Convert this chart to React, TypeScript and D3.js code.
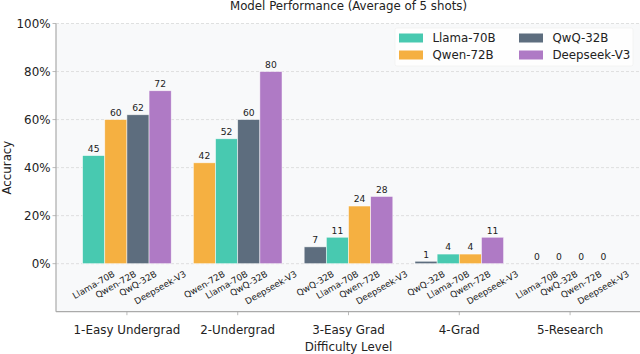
import React, { useEffect, useRef } from 'react';
import * as d3 from 'd3';

const categories = ['1-Easy Undergrad', '2-Undergrad', '3-Easy Grad', '4-Grad', '5-Research'];
const models = ['Llama-70B', 'Qwen-72B', 'QwQ-32B', 'Deepseek-V3'];
const colors = ['#48C9B0', '#F5B041', '#5D6D7E', '#AF7AC5'];

// accuracy per model, one value per category
const llamaValues = [45, 52, 11, 4, 0];
const qwenValues = [60, 42, 24, 4, 0];
const qwqValues = [62, 60, 7, 1, 0];
const deepseekValues = [72, 80, 28, 11, 0];

// bar order inside each group (ascending as in the figure)
const groupOrder = [
  ['Llama-70B', 'Qwen-72B', 'QwQ-32B', 'Deepseek-V3'],
  ['Qwen-72B', 'Llama-70B', 'QwQ-32B', 'Deepseek-V3'],
  ['QwQ-32B', 'Llama-70B', 'Qwen-72B', 'Deepseek-V3'],
  ['QwQ-32B', 'Llama-70B', 'Qwen-72B', 'Deepseek-V3'],
  ['Llama-70B', 'QwQ-32B', 'Qwen-72B', 'Deepseek-V3'],
];

const yTicks = [0, 20, 40, 60, 80, 100];

const W = 640, H = 354;
const left = 56, right = 641, top = 23.5, bottom = 311.7;
const FONT = 'DejaVu Sans, sans-serif';

function App() {
  const ref = useRef<SVGSVGElement>(null);

  useEffect(() => {
    const seriesByModel: Record<string, number[]> = {
      'Llama-70B': llamaValues,
      'Qwen-72B': qwenValues,
      'QwQ-32B': qwqValues,
      'Deepseek-V3': deepseekValues,
    };
    const colorByModel: Record<string, string> = {};
    models.forEach((m, i) => { colorByModel[m] = colors[i]; });

    const svg = d3.select(ref.current);
    svg.selectAll('*').remove();

    const x = d3.scaleLinear().domain([-0.64, 4.64]).range([left, right]);
    const y = d3.scaleLinear().domain([-20, 100]).range([bottom, top]);
    const bw = 0.2;

    // plot background
    svg.append('rect')
      .attr('x', left).attr('y', top)
      .attr('width', right - left).attr('height', bottom - top)
      .attr('fill', '#f8f9fa');

    // grid
    yTicks.forEach(t => {
      svg.append('line')
        .attr('x1', left).attr('x2', right)
        .attr('y1', y(t)).attr('y2', y(t))
        .style('stroke', '#d8d8d8')
        .style('stroke-width', 0.8)
        .style('stroke-dasharray', '3,2');
    });

    // bars
    groupOrder.forEach((order, g) => {
      order.forEach((m, i) => {
        const v = seriesByModel[m][g];
        const cx = g + (i - 1.5) * bw;
        svg.append('rect')
          .attr('x', x(cx - bw / 2))
          .attr('y', y(v))
          .attr('width', x(cx + bw / 2) - x(cx - bw / 2))
          .attr('height', y(0) - y(v))
          .attr('fill', colorByModel[m])
          .style('stroke', 'white')
          .style('stroke-opacity', 0.7)
          .style('stroke-width', 0.7);

        svg.append('text')
          .attr('x', x(cx))
          .attr('y', y(v) - 3.6)
          .attr('text-anchor', 'middle')
          .style('font-family', FONT)
          .style('font-size', '9.2px')
          .style('fill', '#222')
          .text(String(v));

        // rotated model name under the bar, bbox centred on the bar
        const fs = 8.8;
        const lbl = svg.append('text')
          .attr('text-anchor', 'middle')
          .attr('dominant-baseline', 'central')
          .style('font-family', FONT)
          .style('font-size', fs + 'px')
          .style('fill', '#222')
          .text(m);
        const tw = (lbl.node() as SVGTextElement).getComputedTextLength();
        const bh = tw * 0.5 + fs * 1.17 * 0.866;
        lbl.attr('transform', `translate(${x(cx)},${y(0) + 5 + bh / 2}) rotate(-30)`);
      });
    });

    // spines
    svg.append('line')
      .attr('x1', left).attr('x2', left).attr('y1', top).attr('y2', bottom)
      .style('stroke', '#aaaaaa').style('stroke-width', 1.2);
    svg.append('line')
      .attr('x1', left).attr('x2', right).attr('y1', bottom).attr('y2', bottom)
      .style('stroke', '#aaaaaa').style('stroke-width', 1.2);

    // y ticks
    yTicks.forEach(t => {
      svg.append('line')
        .attr('x1', left - 3.5).attr('x2', left).attr('y1', y(t)).attr('y2', y(t))
        .style('stroke', '#aaaaaa').style('stroke-width', 0.8);
      svg.append('text')
        .attr('x', left - 5.5).attr('y', y(t))
        .attr('text-anchor', 'end')
        .attr('dominant-baseline', 'central')
        .style('font-family', FONT)
        .style('font-size', '11.9px')
        .style('fill', '#222')
        .text(t + '%');
    });

    // x ticks
    categories.forEach((c, g) => {
      svg.append('line')
        .attr('x1', x(g)).attr('x2', x(g)).attr('y1', bottom).attr('y2', bottom + 3.5)
        .style('stroke', '#aaaaaa').style('stroke-width', 0.8);
      svg.append('text')
        .attr('x', x(g)).attr('y', 333.5)
        .attr('text-anchor', 'middle')
        .style('font-family', FONT)
        .style('font-size', '11.9px')
        .style('fill', '#222')
        .text(c);
    });

    // axis labels and title
    svg.append('text')
      .attr('x', (left + right) / 2).attr('y', 350.5)
      .attr('text-anchor', 'middle')
      .style('font-family', FONT).style('font-size', '11.8px').style('fill', '#222')
      .text('Difficulty Level');
    svg.append('text')
      .attr('transform', `translate(11,${(top + bottom) / 2}) rotate(-90)`)
      .attr('text-anchor', 'middle')
      .style('font-family', FONT).style('font-size', '11.8px').style('fill', '#222')
      .text('Accuracy');
    svg.append('text')
      .attr('x', (left + right) / 2).attr('y', 9.5)
      .attr('text-anchor', 'middle')
      .style('font-family', FONT).style('font-size', '11.8px').style('fill', '#222')
      .text('Model Performance (Average of 5 shots)');

    // legend, 2 columns
    svg.append('rect')
      .attr('x', 395).attr('y', 28).attr('width', 238).attr('height', 38)
      .attr('rx', 2)
      .attr('fill', 'white').attr('fill-opacity', 0.8)
      .style('stroke', '#eeeeee').style('stroke-width', 0.6);
    models.forEach((m, i) => {
      const col = i < 2 ? 0 : 1;
      const row = i % 2;
      const lx = col === 0 ? 399 : 519;
      const ly = row === 0 ? 38 : 55;
      svg.append('rect')
        .attr('x', lx).attr('y', ly - 4.5).attr('width', 24).attr('height', 9)
        .attr('fill', colors[i]);
      svg.append('text')
        .attr('x', lx + 33.5).attr('y', ly)
        .attr('dominant-baseline', 'central')
        .style('font-family', FONT).style('font-size', '11.8px').style('fill', '#222')
        .text(m);
    });
  }, []);

  return (
    <div>
      <svg ref={ref} width={W} height={H}
        style={{ position: 'absolute', left: 0, top: 0, background: 'white' }} />
    </div>
  );
}

export default App;
